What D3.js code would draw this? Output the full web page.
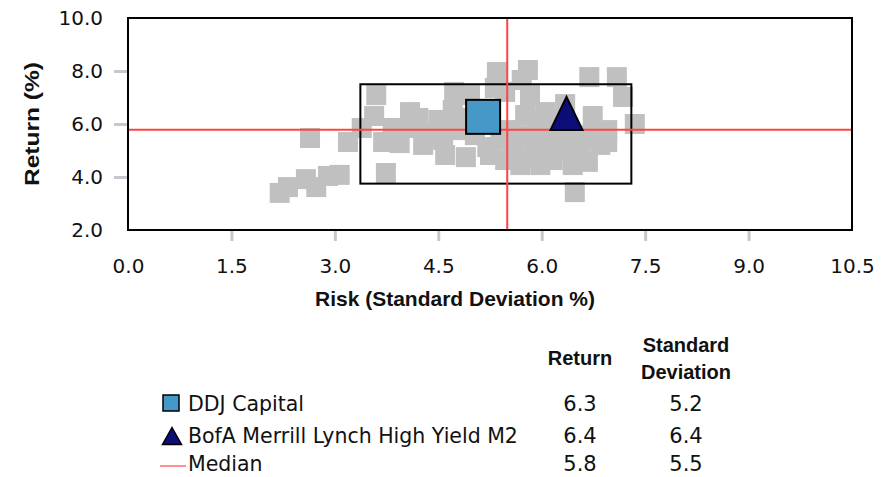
<!DOCTYPE html>
<html><head><meta charset="utf-8">
<script src="https://cdn.jsdelivr.net/npm/d3@7"></script>
<style>body{margin:0;background:#fff}svg{display:block}</style>
</head><body><svg id="c" width="890" height="477"></svg>
<script>
// ---- data ----
const xTicks = [0, 1.5, 3.0, 4.5, 6.0, 7.5, 9.0, 10.5];
const yTicks = [2, 4, 6, 8, 10];
// peer universe [risk, return]
const peerRisk = [2.20,2.32,2.58,2.73,2.90,3.07,2.64,3.19,3.39,3.60,3.57,3.84,3.70,3.94,3.74,4.21,4.50,4.28,4.57,4.73,4.90,4.71,5.21,5.25,5.35,5.71,5.80,5.69,5.98,5.77,6.16,6.45,6.48,6.67,6.95,6.56,6.34,6.69,7.09,7.18,7.35,6.74,6.95,4.96,5.47,5.83,6.05,5.76,5.54,5.83,6.12,6.41,6.70,5.40,6.05,6.34,5.61,4.82,4.96,4.74,5.03,5.98,6.19,4.09,4.38,6.85,6.27,5.32,4.09,4.60,5.47,5.90,6.27,6.63];
const peerReturn = [3.40,3.62,3.92,3.62,4.04,4.08,5.47,5.32,5.85,7.09,6.30,5.85,5.32,5.28,4.15,6.23,6.15,5.21,5.40,7.21,4.75,6.53,5.13,4.83,7.96,7.66,8.04,4.45,4.45,4.72,4.64,4.45,3.43,4.57,5.32,5.02,6.75,7.77,7.77,7.02,6.00,6.30,5.77,7.09,7.21,7.09,6.45,6.34,5.77,5.58,5.77,5.58,5.58,5.40,5.09,5.02,5.02,5.77,6.23,5.96,5.58,6.15,6.23,5.85,5.70,5.21,5.36,7.36,6.45,4.83,4.64,5.02,5.96,5.40];
const boxRisk = [3.37, 7.30];
const boxReturn = [3.75, 7.50];
const medianRisk = 5.5, medianReturn = 5.78;
const seriesNames = ["DDJ Capital", "BofA Merrill Lynch High Yield M2", "Median"];
const seriesRisk = [5.15, 6.36, 5.5];
const seriesReturn = [6.27, 6.4, 5.8];
const tableReturn = ["6.3", "6.4", "5.8"];
const tableStd = ["5.2", "6.4", "5.5"];

// ---- chart ----
const svg = d3.select("#c");
const x = d3.scaleLinear().domain([0, 10.5]).range([128, 852]);
const y = d3.scaleLinear().domain([2, 10]).range([230, 18]);
const tickFont = "'DejaVu Sans', sans-serif";
const boldFont = "'Liberation Sans', Arial, sans-serif";

// axes ticks (gray)
const xAxis = d3.axisBottom(x).tickValues(xTicks).tickFormat(d3.format(".1f")).tickSizeInner(10).tickSizeOuter(0).tickPadding(18);
const gx = svg.append("g").attr("transform", "translate(0,231)").call(xAxis);
gx.select(".domain").remove();
gx.selectAll(".tick line").attr("stroke", "#c5c9ce").attr("stroke-width", 3)
  .filter(d => d === 0 || d === 10.5).remove();
gx.selectAll(".tick text").attr("font-family", tickFont).attr("font-size", 20).attr("fill", "#111");

const yAxis = d3.axisLeft(y).tickValues(yTicks).tickFormat(d3.format(".1f")).tickSizeInner(13).tickSizeOuter(0).tickPadding(11);
const gy = svg.append("g").attr("transform", "translate(127,0)").call(yAxis);
gy.select(".domain").remove();
gy.selectAll(".tick line").attr("stroke", "#c5c9ce").attr("stroke-width", 3)
  .filter(d => d === 2 || d === 10).remove();
gy.selectAll(".tick text").attr("font-family", tickFont).attr("font-size", 20).attr("fill", "#111");

// peers
const peers = peerRisk.map((r, i) => [r, peerReturn[i]]);
svg.append("g").selectAll("rect").data(peers).join("rect")
  .attr("x", d => x(d[0]) - 10).attr("y", d => y(d[1]) - 10)
  .attr("width", 20).attr("height", 20).attr("fill", "#c0c0c0");

// box
svg.append("rect").attr("x", x(boxRisk[0])).attr("y", y(boxReturn[1]))
  .attr("width", x(boxRisk[1]) - x(boxRisk[0])).attr("height", y(boxReturn[0]) - y(boxReturn[1]))
  .attr("fill", "none").attr("stroke", "#000").attr("stroke-width", 2);

// median lines
svg.append("line").attr("x1", x(medianRisk)).attr("x2", x(medianRisk)).attr("y1", y(10)).attr("y2", y(2))
  .attr("stroke", "#ff4444").attr("stroke-width", 2);
svg.append("line").attr("x1", x(0)).attr("x2", x(10.5)).attr("y1", y(medianReturn)).attr("y2", y(medianReturn))
  .attr("stroke", "#ff4444").attr("stroke-width", 2);

// frame
svg.append("rect").attr("x", x(0)).attr("y", y(10)).attr("width", x(10.5) - x(0)).attr("height", y(2) - y(10))
  .attr("fill", "none").attr("stroke", "#000").attr("stroke-width", 2);

// DDJ square
const sq = 34;
svg.append("rect").attr("x", x(seriesRisk[0]) - sq / 2).attr("y", y(seriesReturn[0]) - sq / 2)
  .attr("width", sq).attr("height", sq).attr("fill", "#4699c7").attr("stroke", "#000").attr("stroke-width", 2);
// BofA triangle
function tri(cx, cy, w, h) { return `M${cx},${cy - h / 2}L${cx + w / 2},${cy + h / 2}L${cx - w / 2},${cy + h / 2}Z`; }
svg.append("path").attr("d", tri(x(seriesRisk[1]), y(seriesReturn[1]), 32, 33))
  .attr("fill", "#0d0d78").attr("stroke", "#000").attr("stroke-width", 2);

// axis titles
svg.append("text").attr("x", 455).attr("y", 306).attr("text-anchor", "middle")
  .attr("font-family", boldFont).attr("font-weight", "bold").attr("font-size", 21).attr("fill", "#111")
  .text("Risk (Standard Deviation %)");
svg.append("text").attr("transform", "translate(39,124) rotate(-90)").attr("text-anchor", "middle")
  .attr("font-family", boldFont).attr("font-weight", "bold").attr("font-size", 21).attr("fill", "#111")
  .attr("textLength", 124).attr("lengthAdjust", "spacingAndGlyphs")
  .text("Return (%)");

// legend table
const lg = svg.append("g");
const colR = 580, colS = 686;
const hdr = (t, cx, by) => lg.append("text").attr("x", cx).attr("y", by).attr("text-anchor", "middle")
  .attr("font-family", boldFont).attr("font-weight", "bold").attr("font-size", 20).attr("fill", "#111").text(t);
hdr("Return", colR, 365);
hdr("Standard", colS, 352);
hdr("Deviation", colS, 379);
const rowY = [411, 443, 471];
seriesNames.forEach((n, i) => {
  lg.append("text").attr("x", 188).attr("y", rowY[i]).attr("font-family", tickFont).attr("font-size", 20.5).attr("fill", "#111").text(n);
  lg.append("text").attr("x", colR).attr("y", rowY[i]).attr("text-anchor", "middle").attr("font-family", tickFont).attr("font-size", 21).attr("fill", "#111").text(tableReturn[i]);
  lg.append("text").attr("x", colS).attr("y", rowY[i]).attr("text-anchor", "middle").attr("font-family", tickFont).attr("font-size", 21).attr("fill", "#111").text(tableStd[i]);
});
lg.append("rect").attr("x", 163).attr("y", 395).attr("width", 16).attr("height", 16)
  .attr("fill", "#4699c7").attr("stroke", "#000").attr("stroke-width", 1.5);
lg.append("path").attr("d", tri(172, 436, 19, 17)).attr("fill", "#0d0d78").attr("stroke", "#000").attr("stroke-width", 1.5);
lg.append("line").attr("x1", 160).attr("x2", 186).attr("y1", 466).attr("y2", 466).attr("stroke", "#ff6b6b").attr("stroke-width", 1.5);
</script></body></html>
